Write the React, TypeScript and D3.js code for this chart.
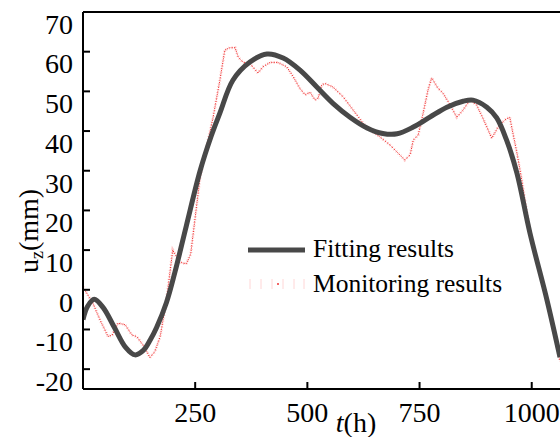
import React from 'react'
import * as d3 from 'd3'

// fitted curve
const fitT = [0, 10, 25, 45, 70, 95, 116, 135, 150, 164, 186, 205, 230, 261, 285, 305, 334, 372, 410, 446, 483, 521, 557, 595, 633, 668, 700, 736, 773, 811, 847, 869, 900, 922, 944, 967, 996, 1034, 1063]
const fitU = [-7.5, -4.2, -2.4, -4.5, -9.5, -14.5, -16.4, -15.2, -12.6, -9.5, -3.2, 4.5, 16, 30, 38.5, 44.5, 52.8, 57.4, 59.4, 58.4, 55.4, 51.1, 47, 43.5, 40.8, 39.4, 39.3, 41, 43.5, 46, 47.5, 47.8, 46, 43.3, 37.7, 29.4, 14.3, -2.6, -17]

// monitoring record
const monT = [0, 22, 38, 56, 65, 78, 94, 109, 120, 138, 149, 160, 172, 186, 200, 215, 230, 240, 261, 290, 305, 316, 327, 339, 346, 357, 372, 390, 401, 417, 434, 454, 469, 483, 495, 506, 517, 524, 532, 539, 557, 580, 602, 624, 639, 662, 684, 706, 717, 729, 736, 747, 758, 769, 777, 791, 802, 818, 833, 847, 862, 877, 891, 911, 925, 940, 951, 958, 967, 978, 996, 1034, 1063]
const monU = [0.7, -3.4, -7.6, -11.8, -11.4, -8.4, -8.8, -11.4, -11.8, -14.6, -17.1, -15.6, -11.8, -2.6, 10, 7, 6.5, 9, 28.4, 43.5, 52.8, 60.4, 61, 61, 58.6, 57.3, 57, 54.6, 56.2, 57.3, 57.3, 56.2, 53.6, 50.8, 49.1, 49.8, 47.8, 48.3, 51.6, 52, 51.1, 48.6, 45.3, 42, 40.3, 38.5, 36.5, 34, 32.7, 34, 37.7, 39, 44.5, 50.4, 53.4, 50.8, 49.6, 46.6, 43.5, 45.3, 47.8, 46.6, 43.3, 38.2, 41, 42.8, 43.5, 39.5, 34.5, 27.6, 14.5, -2.8, -18]

const xTicks = [250, 500, 750, 1000]
const yTicks = [-20, -10, 0, 10, 20, 30, 40, 50, 60, 70]

const font = '"Liberation Serif", "Times New Roman", serif'

export default function App() {
  const left = 83
  const top = 12
  const bottom = 389
  const right = 560

  const x = d3.scaleLinear().domain([0, 1063]).range([left, right])
  const y = d3.scaleLinear().domain([-25, 70]).range([bottom, top])

  const fitLine = d3
    .line<number>()
    .curve(d3.curveCatmullRom.alpha(0.5))
    .x((d, i) => x(fitT[i]))
    .y(d => y(d))

  const monLine = d3
    .line<number>()
    .x((d, i) => x(monT[i]))
    .y(d => y(d))

  return (
    <svg width={560} height={437} style={{position: 'absolute', left: 0, top: 0, background: '#fff'}} fontFamily={font}>
      <defs>
        <clipPath id="plot">
          <rect x={left} y={top} width={right - left} height={bottom - top} />
        </clipPath>
      </defs>

      <g clipPath="url(#plot)">
        <path d={monLine(monU) || ''} fill="none" stroke="#ffc8c8" strokeWidth={3} strokeDasharray="1 2" />
        <path d={monLine(monU) || ''} fill="none" stroke="#ee3333" strokeWidth={1} strokeDasharray="1.2 1.2" />
        <path d={fitLine(fitU) || ''} fill="none" stroke="#484848" strokeWidth={5} />
      </g>

      {/* frame */}
      <line x1={left} x2={left} y1={top} y2={bottom} stroke="#000" strokeWidth={2} />
      <line x1={left} x2={right} y1={bottom} y2={bottom} stroke="#000" strokeWidth={2} />
      <line x1={left} x2={right} y1={top} y2={top} stroke="#000" strokeWidth={2} />

      {yTicks.map(t => (
        <g key={t}>
          {t < 70 && <line x1={left} x2={left + 7} y1={y(t)} y2={y(t)} stroke="#000" strokeWidth={2} />}
          <text x={73} y={y(t) + 12} dy="0.35em" textAnchor="end" fontSize={28}>
            {t}
          </text>
        </g>
      ))}

      {xTicks.map(t => (
        <g key={t}>
          <line x1={x(t)} x2={x(t)} y1={bottom} y2={bottom - 7} stroke="#000" strokeWidth={2} />
          <text x={x(t)} y={422} textAnchor="middle" fontSize={28}>
            {t}
          </text>
        </g>
      ))}

      <text x={356} y={432} textAnchor="middle" fontSize={28}>
        <tspan fontStyle="italic">t</tspan>(h)
      </text>

      <text transform="translate(38,231) rotate(-90)" textAnchor="middle" fontSize={28}>
        u<tspan fontSize={18} dy={5}>z</tspan>
        <tspan dy={-5}>(mm)</tspan>
      </text>

      {/* legend */}
      <line x1={248} x2={305} y1={250} y2={250} stroke="#484848" strokeWidth={5} />
      <text x={313} y={257} fontSize={25.5}>Fitting results</text>
      {[250, 261, 272, 283, 294, 304].map(px => (
        <line key={px} x1={px} x2={px} y1={279} y2={289} stroke="#ffd6d6" strokeWidth={1} />
      ))}
      <circle cx={278} cy={284} r={1} fill="#ee3333" />
      <text x={313} y={292} fontSize={25.5}>Monitoring results</text>
    </svg>
  )
}
